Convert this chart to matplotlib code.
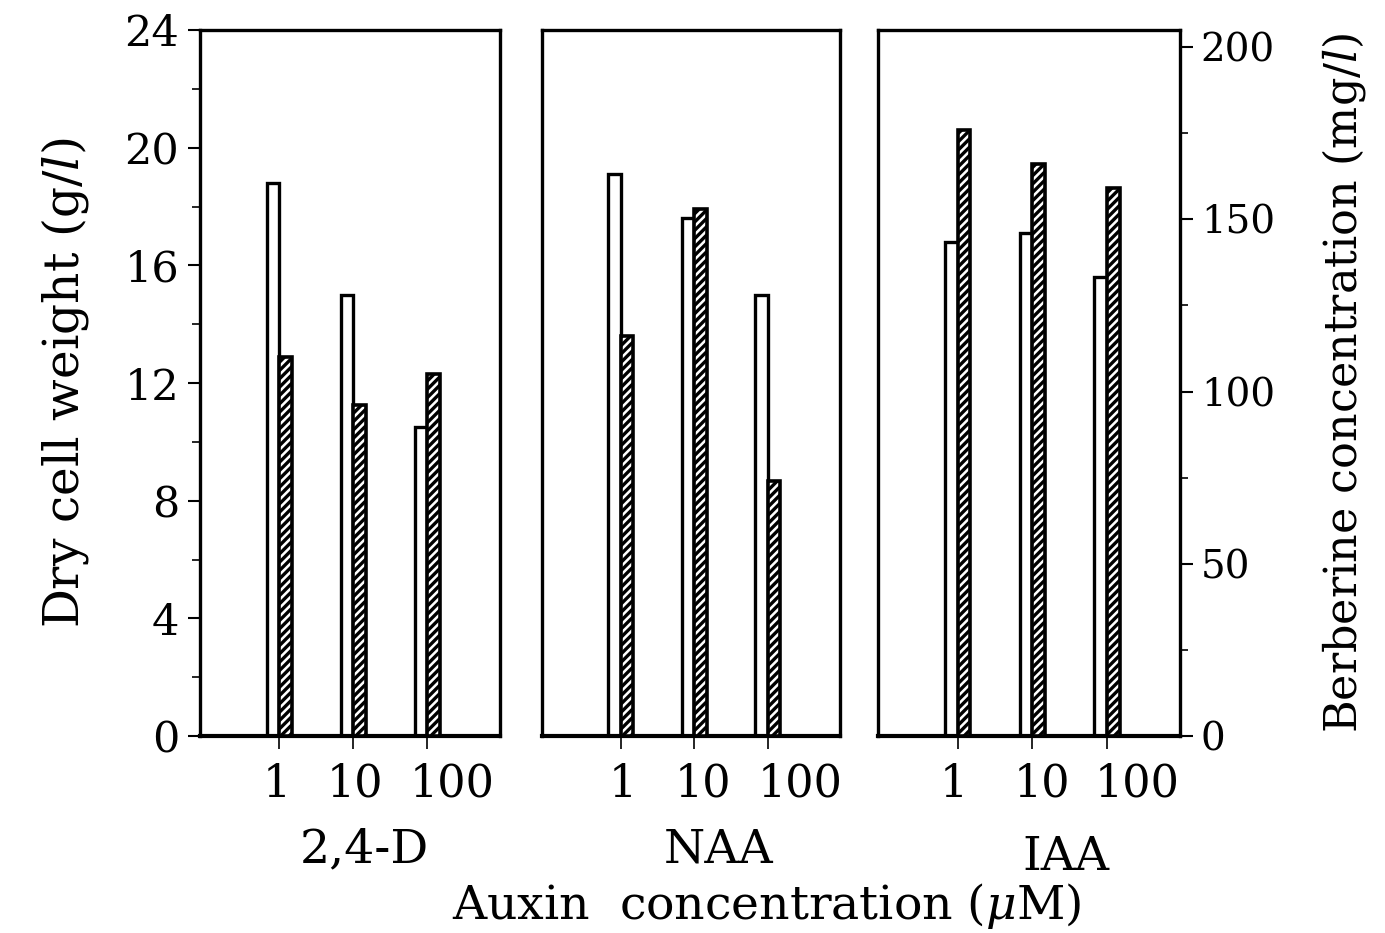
import numpy as np
import matplotlib
matplotlib.use("Agg")
from matplotlib import pyplot as plt
from matplotlib.ticker import MultipleLocator
from matplotlib.transforms import ScaledTranslation

plt.rcParams['font.family'] = ['DejaVu Serif']
plt.rcParams['mathtext.fontset'] = 'dejavuserif'
plt.rcParams['hatch.linewidth'] = 2.4

auxins = ['2,4-D', 'NAA', 'IAA']
conc_labels = ['1', '10', '100']

# dry cell weight (g/l), left axis
dcw_24d = [18.8, 15.0, 10.5]
dcw_naa = [19.1, 17.6, 15.0]
dcw_iaa = [16.8, 17.1, 15.6]

# berberine (mg/l), right axis
ber_24d = [110, 96, 105]
ber_naa = [116, 153, 74]
ber_iaa = [176, 166, 159]

dcw_all = [dcw_24d, dcw_naa, dcw_iaa]
ber_all = [ber_24d, ber_naa, ber_iaa]

W, H = 1385, 933
fig = plt.figure(figsize=(W / 100, H / 100), dpi=100)

panel_x = [(200, 500), (542, 840), (878, 1180)]
cat_xy = [(364, 850), (719, 850), (1066, 857)]
# the printed tick labels sit a bit right of their ticks (pixels)
lab_shift = [[-3, 2, 25], [2, 9, 32], [-4, 10, 30]]
top_px, bot_px = 30, 736
mg_per_unit = 8.54
ber_top = 24 * mg_per_unit
bw = 0.17

axes = []
for i, (x0, x1) in enumerate(panel_x):
    ax = fig.add_axes([x0 / W, 1 - bot_px / H, (x1 - x0) / W, (bot_px - top_px) / H])
    axes.append(ax)
    pos = np.arange(3)
    # white bars = dry cell weight, drawn on the berberine scale
    ax.bar(pos - bw / 2, np.array(dcw_all[i]) * mg_per_unit, width=bw,
           facecolor='white', edgecolor='black', linewidth=2.4, zorder=2)
    ax.bar(pos + bw / 2, ber_all[i], width=bw, facecolor='white',
           edgecolor='black', hatch='////', linewidth=2.6, zorder=3)
    ax.set_xlim(-1.07, 2.98)
    ax.set_ylim(0, ber_top)
    for s in ax.spines.values():
        s.set_linewidth(2.4)
    ax.spines['bottom'].set_linewidth(3)
    ax.set_xticks(pos)
    ax.set_xticklabels(conc_labels, fontsize=32)
    ax.tick_params(axis='x', direction='out', length=9, width=1.2, pad=10)
    for lab, dx in zip(ax.get_xticklabels(), lab_shift[i]):
        lab.set_transform(lab.get_transform() + ScaledTranslation(dx / 100, 0, fig.dpi_scale_trans))
    ax.set_yticks([])
    cx, cy = cat_xy[i]
    fig.text(cx / W, 1 - cy / H, auxins[i], ha='center', va='center', fontsize=34)

# left axis: dry cell weight
axl = axes[0].twinx()
axl.yaxis.tick_left()
axl.yaxis.set_label_position('left')
axl.set_ylim(0, 24)
axl.set_yticks(np.arange(0, 25, 4))
axl.yaxis.set_minor_locator(MultipleLocator(2))
axl.tick_params(axis='y', which='major', direction='out', length=9, width=1.5,
                labelsize=31, pad=6)
axl.tick_params(axis='y', which='minor', direction='out', length=6, width=1.2)
axl.set_ylabel(r'Dry cell weight (g/$\mathit{l}$)', fontsize=35, labelpad=24)
for s in axl.spines.values():
    s.set_visible(False)

# right axis: berberine
axr = axes[2].twinx()
axr.set_ylim(0, ber_top)
axr.set_yticks(np.arange(0, 201, 50))
axr.yaxis.set_minor_locator(MultipleLocator(25))
axr.tick_params(axis='y', which='major', direction='out', length=9, width=1.5,
                labelsize=28, pad=6)
axr.tick_params(axis='y', which='minor', direction='out', length=6, width=1.2)
axr.set_ylabel(r'Berberine concentration (mg/$\mathit{l}$)', fontsize=32, labelpad=32)
for s in axr.spines.values():
    s.set_visible(False)

fig.text(767 / W, 1 - 906 / H, r'Auxin  concentration ($\mu$M)', ha='center',
         va='center', fontsize=34)

fig.savefig('out.png', dpi=100)
